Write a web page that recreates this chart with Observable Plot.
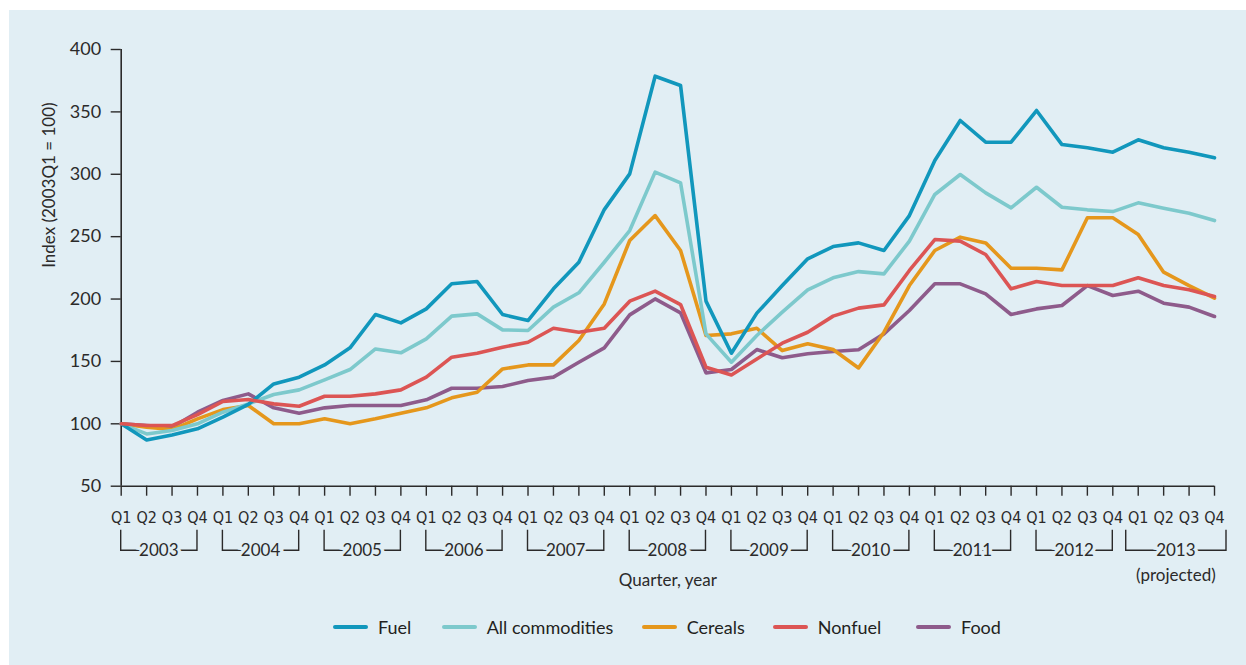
<!DOCTYPE html>
<html>
<head>
<meta charset="utf-8">
<script src="https://cdn.jsdelivr.net/npm/d3@7"></script>
<script src="https://cdn.jsdelivr.net/npm/@observablehq/plot@0.6"></script>
<style>
  html, body { margin: 0; padding: 0; background: #ffffff; }
  #panel { position: absolute; left: 9px; top: 10px; width: 1237px; height: 655px; background: #e1eef4; font-family: Lato, "Open Sans", sans-serif; color: #231f20; overflow: hidden; }
  #chart { position: absolute; left: 0; top: 0; }
  .item { position: absolute; top: 606px; height: 22px; display: flex; align-items: center; font-size: 18px; white-space: nowrap; }
  .sw { width: 35px; height: 4px; border-radius: 2px; margin-right: 10px; }
</style>
</head>
<body>
<div id="panel">
  <div id="chart"></div>
  <div id="legend"></div>
</div>
<script>
// ---- data ----
const years = [2003, 2004, 2005, 2006, 2007, 2008, 2009, 2010, 2011, 2012, 2013];
const quarters = ["Q1", "Q2", "Q3", "Q4"];
const projectedYears = [2013];
const yTicks = [50, 100, 150, 200, 250, 300, 350, 400];

const seriesNames = ["Fuel", "All commodities", "Cereals", "Nonfuel", "Food"];
const seriesColors = ["#1197bc", "#7dc9cc", "#e5971c", "#dc5554", "#8e5b8b"];

const fuel = [100, 87.1, 91.1, 96, 105.3, 115.5, 132, 137.4, 147.2, 160.9, 187.6, 180.9, 192.1, 212.2, 214, 187.6,
  182.8, 208.2, 229.5, 271.7, 300.3, 378.6, 371.1, 198.3, 156.6, 188.7, 210.8, 232.2, 242.1, 245, 238.9,
  266.9, 311, 343.1, 325.7, 325.7, 351.1, 323.8, 321.2, 317.7, 327.6, 321.2, 317.7, 313.2];
const allCommodities = [100, 91.9, 94.6, 100, 109.3, 116, 123.5, 127.2, 135.2, 143.5, 160, 156.9, 168.1, 186.3, 188.1, 175.3,
  174.8, 193.5, 205, 229.5, 254.9, 301.7, 293.1, 172.1, 149.4, 170.8, 189.5, 207.4, 217, 222, 220.2,
  246.4, 283.8, 299.8, 285.1, 273.1, 289.6, 273.6, 271.5, 270.1, 277.1, 272.8, 268.8, 262.9];
const cereals = [100, 97.3, 95.4, 104, 111.4, 114.7, 100, 100, 104, 100, 104, 108.5, 112.8, 120.8, 125.3, 144,
  147.2, 147.2, 166.8, 196.1, 246.9, 266.9, 238.9, 170.8, 172.1, 176.6, 158.7, 164.1, 159.5, 144.8, 173.4,
  210.8, 238.9, 249.6, 245, 224.7, 224.7, 223.4, 265.1, 265.1, 251.7, 221.5, 210.8, 200.7];
const nonfuel = [100, 98.6, 98.6, 107.4, 117.9, 119.5, 116, 114.1, 122.1, 122.1, 124, 127.2, 137.4, 153.4, 156.6, 161.4,
  165.4, 176.6, 173.4, 176.6, 198.3, 206.3, 195.6, 145.4, 139.2, 152, 164.6, 173.4, 186.3, 192.7, 195.3,
  222.9, 247.7, 246.4, 235.7, 208.2, 214, 210.8, 210.8, 210.8, 217, 210.8, 207.4, 202];
const food = [100, 98.6, 97.3, 109.3, 118.7, 124, 112.8, 108.5, 112.8, 114.7, 114.7, 114.7, 119.2, 128.5, 128.5, 129.9,
  134.7, 137.4, 149.4, 160.9, 187.3, 200.1, 188.9, 140.8, 143.5, 159.5, 152.9, 156.1, 157.9, 159.3, 172.1,
  190.8, 212.2, 212.2, 204.2, 187.6, 192.1, 194.8, 210.8, 202.8, 206.3, 196.7, 193.5, 186];

// ---- build table ----
const periods = years.flatMap(y => quarters.map(q => `${y}${q}`));
const valuesBySeries = { "Fuel": fuel, "All commodities": allCommodities, "Cereals": cereals, "Nonfuel": nonfuel, "Food": food };
const drawOrder = ["Food", "Cereals", "All commodities", "Fuel", "Nonfuel"];
const table = drawOrder.flatMap(s => valuesBySeries[s].map((v, i) => ({ series: s, period: periods[i], value: v })));

const ink = "#2b2a2a";
const panelBg = "#e1eef4";

function yearBrackets(index, scales, values, dims) {
  const x = scales.x;
  const y0 = dims.height - dims.marginBottom;
  const g = d3.create("svg:g");
  years.forEach(yr => {
    const ext = projectedYears.includes(yr) ? 12 : 0;
    const xa = x(`${yr}Q1`) - ext, xb = x(`${yr}Q4`) + ext;
    g.append("path")
      .attr("d", `M${xa},${y0 + 44}V${y0 + 64.5}H${xb}V${y0 + 44}`)
      .attr("fill", "none").attr("stroke", ink).attr("stroke-width", 1.4);
    g.append("text")
      .attr("x", (xa + xb) / 2).attr("y", y0 + 64).attr("dy", "0.36em")
      .attr("text-anchor", "middle")
      .attr("font-size", 17)
      .attr("fill", ink)
      .attr("stroke", panelBg).attr("stroke-width", 7).attr("paint-order", "stroke")
      .text(yr);
    if (projectedYears.includes(yr)) {
      g.append("text")
        .attr("x", (xa + xb) / 2).attr("y", y0 + 89).attr("dy", "0.36em")
        .attr("text-anchor", "middle").attr("font-size", 17).attr("fill", ink)
        .text("(projected)");
    }
  });
  return g.node();
}

const chart = Plot.plot({
  width: 1237,
  height: 590,
  marginLeft: 111.7,
  marginRight: 32,
  marginTop: 39,
  marginBottom: 114.3,
  style: { background: "transparent", fontFamily: "Lato, 'Open Sans', sans-serif", fontSize: "17px", color: ink, overflow: "visible" },
  x: { type: "point", domain: periods, padding: 0, round: false },
  y: { domain: [50, 400] },
  color: { domain: seriesNames, range: seriesColors },
  marks: [
    Plot.axisY({ ticks: yTicks, tickSize: 10, tickPadding: 10, label: null, stroke: ink, strokeWidth: 1.4, fontSize: 18 }),
    Plot.axisX({ tickSize: 10, tickPadding: 15, label: null, stroke: ink, strokeWidth: 1.4,
      tickFormat: d => d.slice(4), fontSize: 16, fontFamily: "'Liberation Sans Narrow', 'DejaVu Sans Condensed', sans-serif" }),
    Plot.ruleX([periods[0]], { stroke: ink, strokeWidth: 1.6 }),
    Plot.ruleY([50], { stroke: ink, strokeWidth: 1.6 }),
    Plot.line(table, { x: "period", y: "value", z: "series", stroke: "series", strokeWidth: 3.6 }),
    Plot.text(["Index (2003Q1 = 100)"], { frameAnchor: "left", dx: -72, rotate: -90, fontSize: 17, fill: ink }),
    Plot.text(["Quarter, year"], { frameAnchor: "bottom", dy: 100, fontSize: 17, fill: ink }),
    yearBrackets
  ]
});
document.getElementById("chart").appendChild(chart);

// ---- legend ----
const legendLeft = [324, 432.7, 632.7, 763.7, 907];
const legend = document.getElementById("legend");
seriesNames.forEach((name, i) => {
  const item = document.createElement("div");
  item.className = "item";
  item.style.left = legendLeft[i] + "px";
  const sw = document.createElement("div");
  sw.className = "sw";
  sw.style.background = seriesColors[i];
  const label = document.createElement("span");
  label.textContent = name;
  item.appendChild(sw);
  item.appendChild(label);
  legend.appendChild(item);
});
</script>
</body>
</html>
